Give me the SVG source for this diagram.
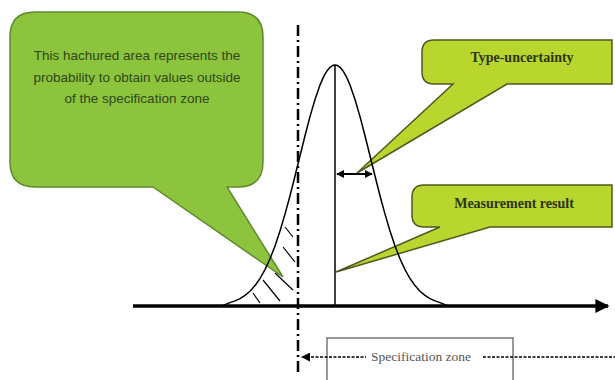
<svg xmlns="http://www.w3.org/2000/svg" width="615" height="380" viewBox="0 0 615 380">
<style>
.callL{fill:#8cc43e;stroke:#5e8a2c;stroke-width:1.5}
.callR{fill:#b8d62e;stroke:#4d5a1c;stroke-width:1.5}
.tl{font-family:"Liberation Sans",Arial,sans-serif;font-size:13.5px;fill:#2e4814;text-anchor:middle}
.tr{font-family:"Liberation Serif","Times New Roman",serif;font-size:14px;font-weight:bold;fill:#2b3510;text-anchor:middle}
.ts{font-family:"Liberation Serif","Times New Roman",serif;font-size:13.5px;fill:#555;text-anchor:middle}
.ln{stroke:#000;fill:none;stroke-linejoin:round}
</style>
<defs>
<marker id="ah" viewBox="0 0 10 10" refX="9" refY="5" markerWidth="4" markerHeight="4" orient="auto-start-reverse"><path d="M0,0 L10,5 L0,10 Z" fill="#000"/></marker>
<marker id="ahs" viewBox="0 0 10 10" refX="9" refY="5" markerWidth="6" markerHeight="6" orient="auto-start-reverse"><path d="M0,0 L10,5 L0,10 Z" fill="#000"/></marker>
</defs>
<rect width="615" height="380" fill="#fff"/>
<g id="node-hatch-callout">
<path class="callL" d="M35,12 H238 Q263,12 263,37 V162 Q263,187 238,187 H227 L283,277 L153,187 H35 Q10,187 10,162 V37 Q10,12 35,12 Z"/>
<text class="tl" x="137" y="60">This hachured area represents the</text>
<text class="tl" x="137" y="82">probability to obtain values outside</text>
<text class="tl" x="137" y="103">of the specification zone</text>
</g>
<g id="node-type-uncertainty">
<path class="callR" d="M434,40 H612 V84 H507 L357,173 L453,84 H434 Q422,84 422,72 V52 Q422,40 434,40 Z"/>
<text class="tr" x="522" y="62">Type-uncertainty</text>
</g>
<g id="node-measurement-result">
<path class="callR" d="M424,185 H612 V227 H490 L336,272 L440,227 H424 Q412,227 412,215 V197 Q412,185 424,185 Z"/>
<text class="tr" x="514" y="208">Measurement result</text>
</g>
<g id="node-spec-zone">
<rect x="327" y="338" width="186" height="60" fill="none" stroke="#777" stroke-width="1.5"/>
<text class="ts" x="421" y="361">Specification zone</text>
</g>
<g id="connectors">
<line class="ln" x1="133" y1="306" x2="608" y2="306" stroke-width="3.5" marker-end="url(#ah)"/>
<polyline class="ln" stroke-width="1.5" points="222,306 225,304.6 230,302.6 235,300.9 240,298.6 245,295.4 250,291.2 255,285.6 260,278.5 265,269.6 270,258.8 275,245.9 280,231 285,214.1 290,195.7 295,176 300,155.8 305,135.7 310,116.6 315,99.5 320,85 322.5,79.1 325,74.1 327.5,70.2 330,67.3 332.5,65.6 335,65 337.5,65.6 340,67.3 342.5,70.2 345,74.1 347.5,79.1 350,85 355,99.5 360,116.6 365,135.7 370,155.8 375,176 380,195.7 385,214.1 390,231 395,245.9 400,258.8 405,269.6 410,278.5 415,285.6 420,291.2 425,295.4 430,298.6 435,300.9 440,302.6 445,304.6 448,306"/>
<line class="ln" x1="335" y1="65" x2="335" y2="306" stroke-width="1.5"/>
<line class="ln" x1="337" y1="174" x2="372" y2="174" stroke-width="2" marker-start="url(#ah)" marker-end="url(#ah)"/>
<g class="ln" stroke-width="1.2" stroke="#333">
<line x1="285" y1="227" x2="293" y2="237"/>
<line x1="283" y1="247" x2="295" y2="262"/>
<line x1="275" y1="273" x2="293" y2="290"/>
<line x1="263" y1="280" x2="280" y2="301"/>
<line x1="253" y1="293" x2="260" y2="303"/>
</g>
<line class="ln" x1="298" y1="25" x2="298" y2="372" stroke-width="2.5" stroke-dasharray="11,4,2,4"/>
<line class="ln" x1="302" y1="357" x2="366" y2="357" stroke-width="1.5" stroke-dasharray="3,1.5" marker-start="url(#ahs)"/>
<line class="ln" x1="483" y1="357" x2="615" y2="357" stroke-width="1.5" stroke-dasharray="3,1.5"/>
</g>
</svg>
